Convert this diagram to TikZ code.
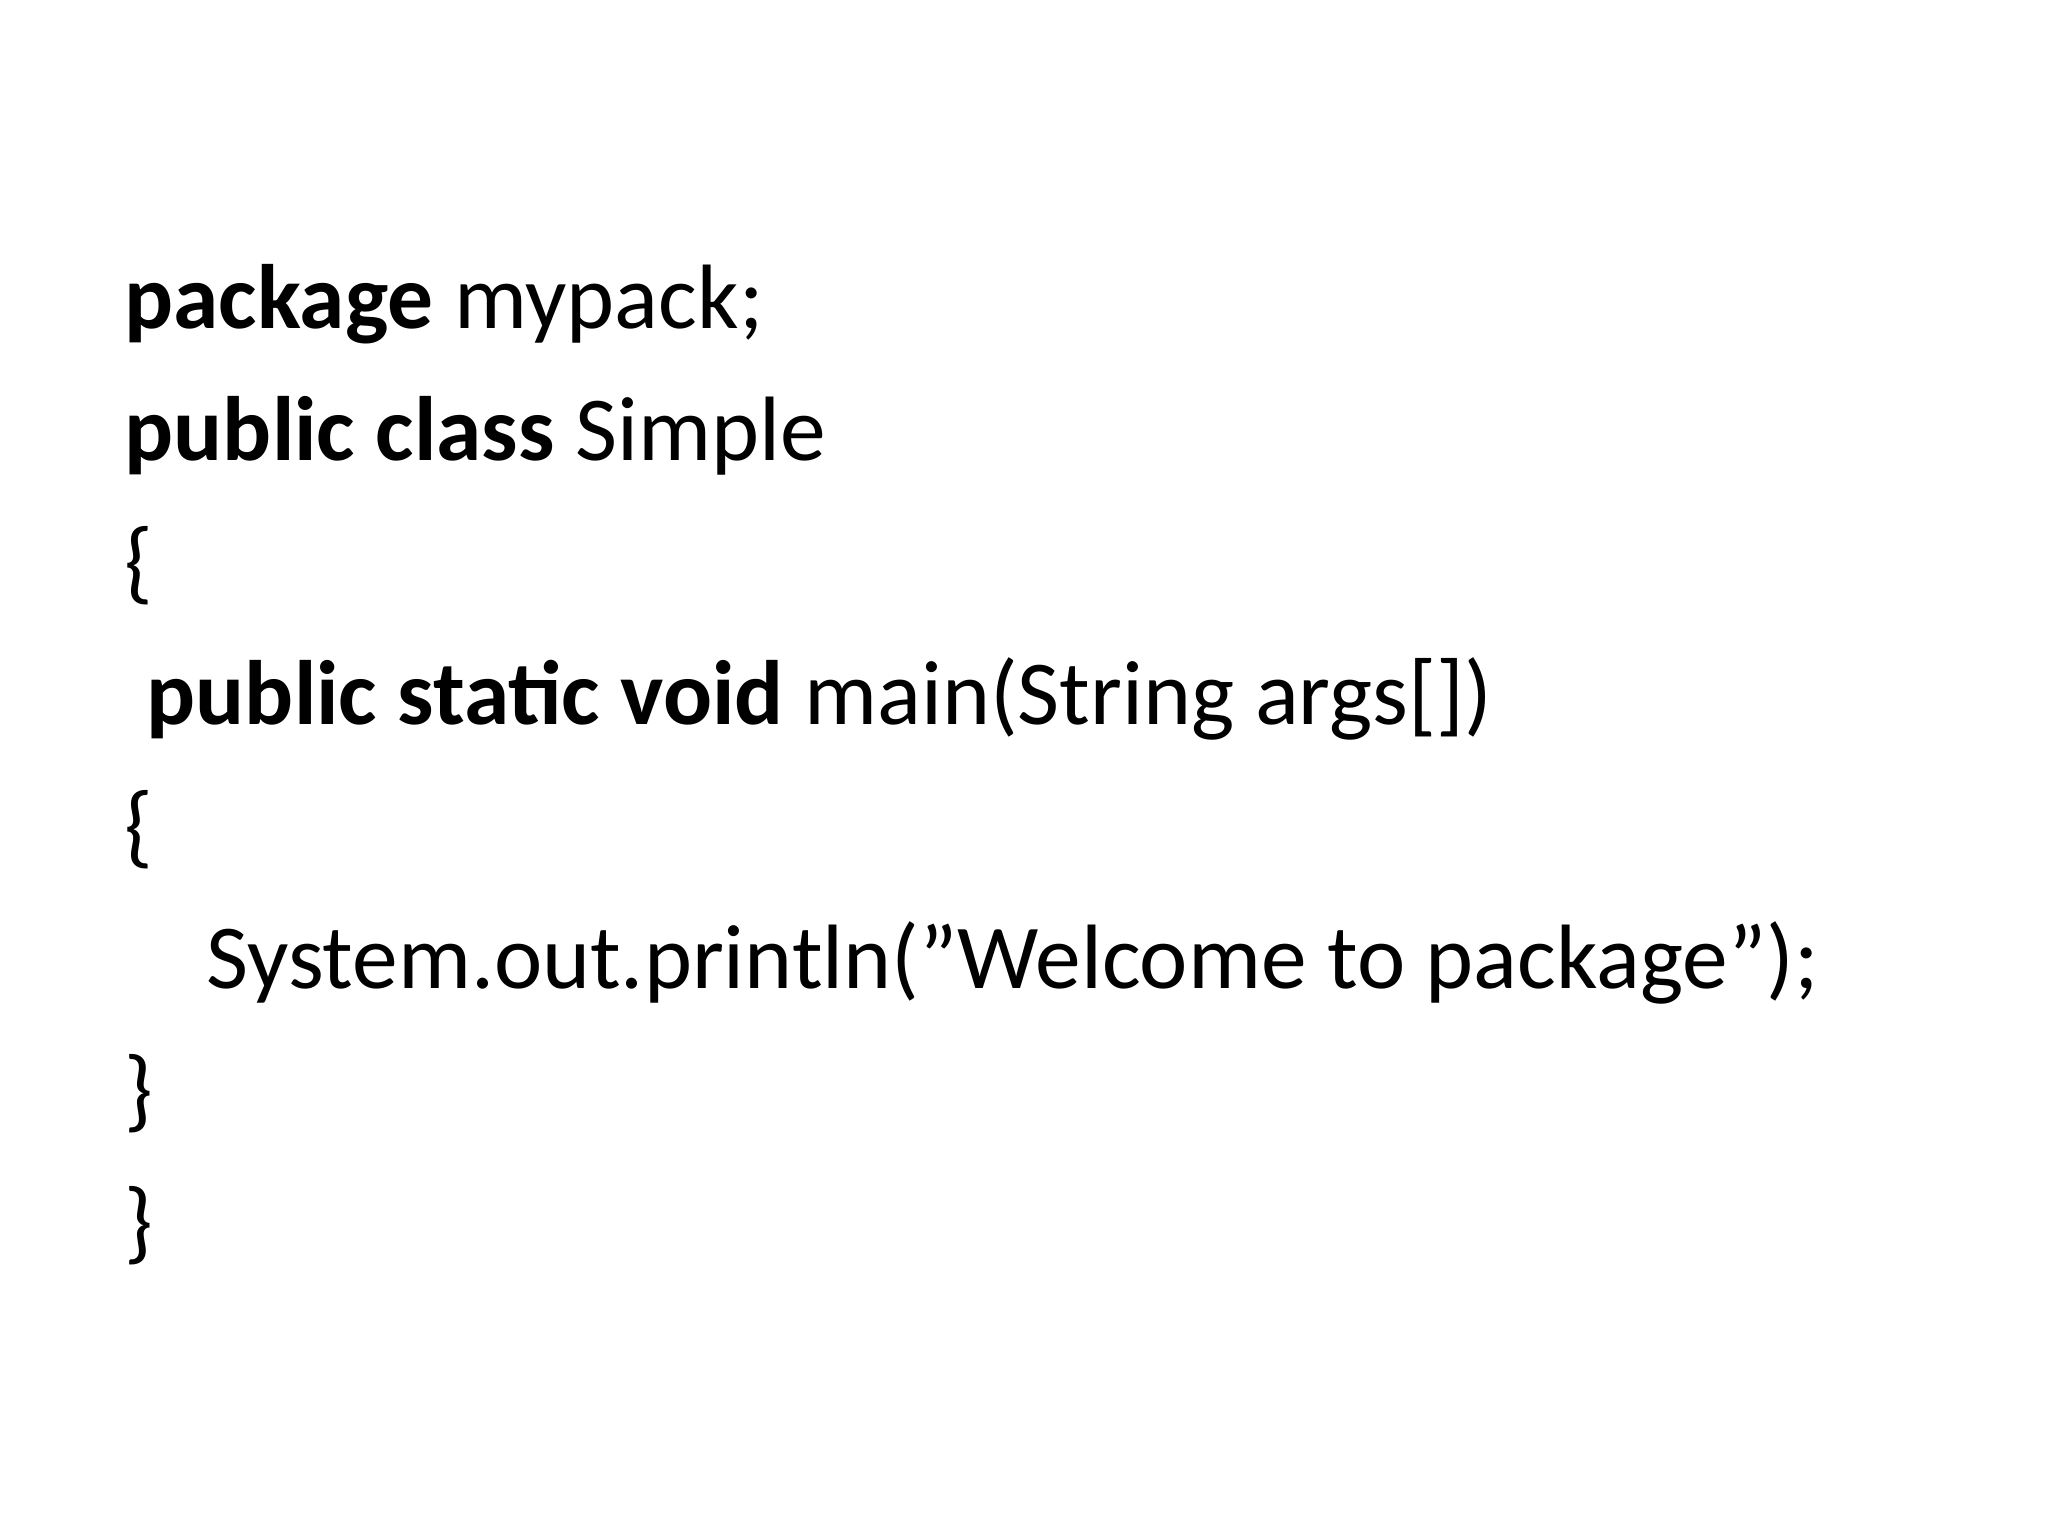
\documentclass[tikz,border=0pt]{standalone}
\usepackage{fontspec}
\setmainfont{Carlito}
\begin{document}
\begin{tikzpicture}[x=0.01cm,y=0.01cm,code/.style={anchor=base west,inner sep=0pt,font=\fontsize{26}{30}\selectfont}]
\useasboundingbox (0,0) rectangle (2048,1536);
\node[code] (l1) at (124,1536-329) {\textbf{package} mypack;};
\node[code] (l2) at (124,1536-461) {\textbf{public class} Simple};
\node[code] (l3) at (124,1536-593) {\{};
\node[code] (l4) at (146,1536-725) {\textbf{public static void} main(String args[])};
\node[code] (l5) at (124,1536-857) {\{};
\node[code] (l6) at (206,1536-989) {System.out.println("Welcome to package");};
\node[code] (l7) at (124,1536-1121) {\}};
\node[code] (l8) at (124,1536-1253) {\}};
\end{tikzpicture}
\end{document}
